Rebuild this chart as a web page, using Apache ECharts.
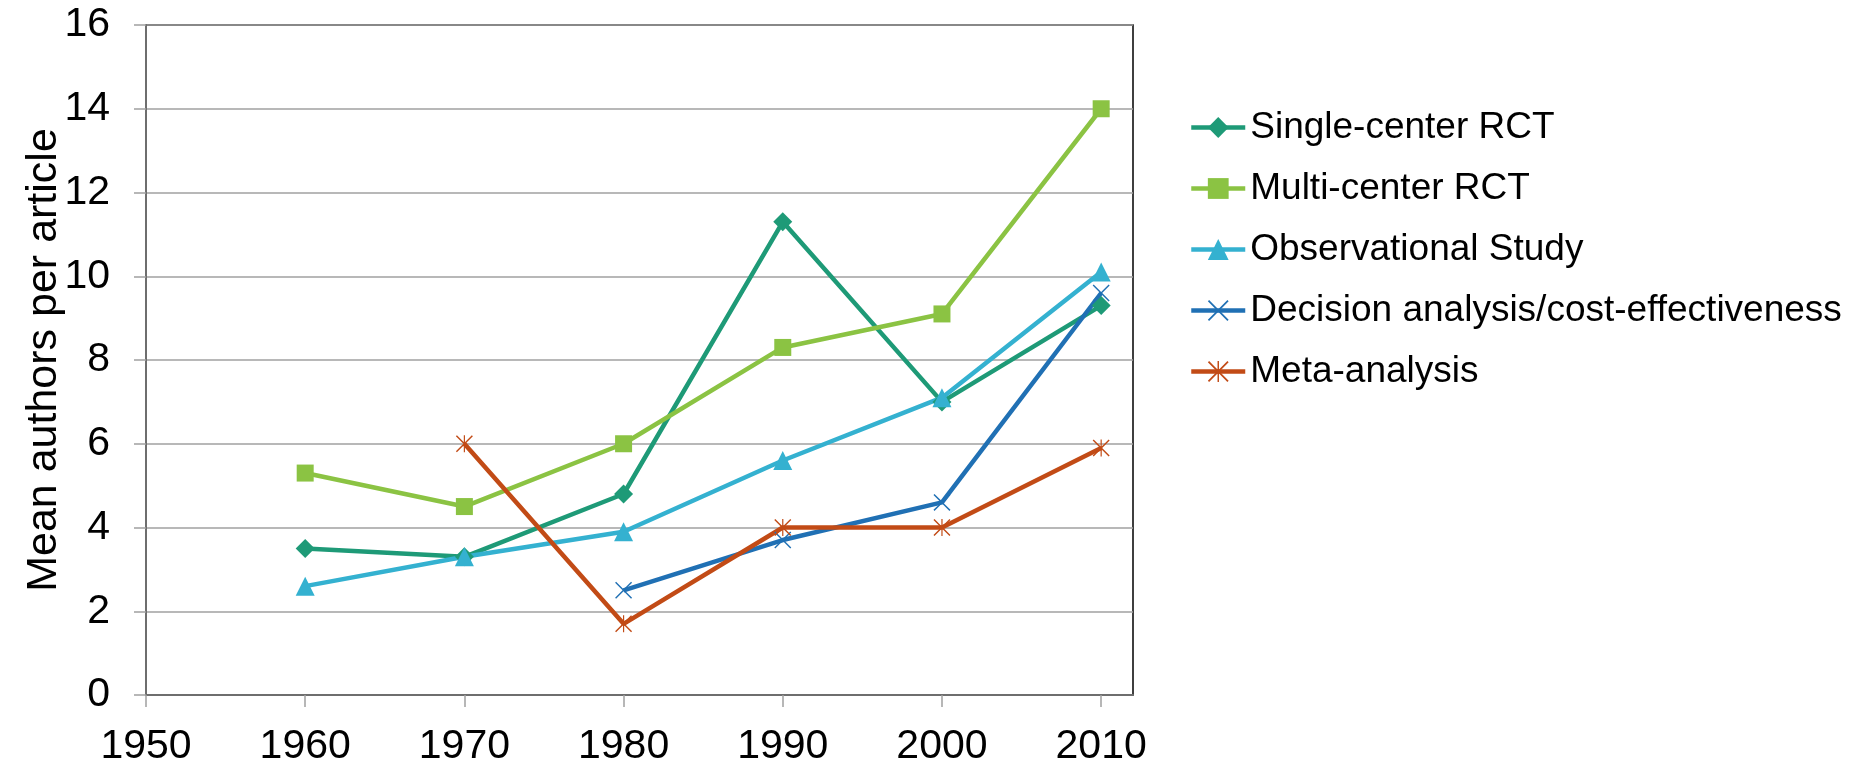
<!DOCTYPE html>
<html>
<head>
<meta charset="utf-8">
<script src="https://cdn.jsdelivr.net/npm/echarts@6/dist/echarts.min.js"></script>
<style>
  html, body { margin: 0; padding: 0; background: #fff; }
  #chart { width: 1850px; height: 767px; }
</style>
</head>
<body>
<div id="chart"></div>
<script>
const years = [1960, 1970, 1980, 1990, 2000, 2010];
const singleCenter = [3.5, 3.3, 4.8, 11.3, 7.0, 9.3];
const multiCenter = [5.3, 4.5, 6.0, 8.3, 9.1, 14.0];
const observational = [2.6, 3.3, 3.9, 5.6, 7.1, 10.1];
const decisionAnalysis = [null, null, 2.5, 3.7, 4.6, 9.6];
const metaAnalysis = [null, 6.0, 1.7, 4.0, 4.0, 5.9];
const xTicks = [1950, 1960, 1970, 1980, 1990, 2000, 2010];

const FONT = 'Liberation Sans, Arial, sans-serif';

// thin X and asterisk markers, filled outlines
const crossPath = 'path://M0,1.2 L1.2,0 L10,8.8 L18.8,0 L20,1.2 L11.2,10 L20,18.8 L18.8,20 L10,11.2 L1.2,20 L0,18.8 L8.8,10 Z';
const starPath = crossPath.replace(' Z', ' Z M9.3,0 L10.7,0 L10.7,20 L9.3,20 Z');

const toPairs = (vals) => {
    let out = [];
    vals.forEach((v, i) => {
        if (v !== null) out.push([years[i], v]);
    });
    return out;
}

const makeSeries = (name, vals, color, symbol, size) => {
    return {
        name: name,
        type: 'line',
        data: toPairs(vals),
        symbol: symbol,
        symbolSize: size,
        showAllSymbol: true,
        lineStyle: { color: color, width: 4.5 },
        itemStyle: { color: color },
        emphasis: { disabled: true },
        z: 3
    };
}

const chart = echarts.init(document.getElementById('chart'), null, { renderer: 'canvas' });

const option = {
    animation: false,
    textStyle: { fontFamily: FONT, color: '#000' },
    grid: {
        left: 146, top: 25, right: 717, bottom: 69,
        show: true, borderColor: '#000', borderWidth: 1.5, backgroundColor: 'transparent'
    },
    legend: {
        orient: 'vertical',
        left: 1184,
        top: 104,
        itemWidth: 54,
        itemHeight: 26,
        itemGap: 24,
        lineStyle: { width: 4.5 },
        textStyle: { fontFamily: FONT, fontSize: 37, color: '#000' },
        data: ['Single-center RCT', 'Multi-center RCT', 'Observational Study',
            'Decision analysis/cost-effectiveness', 'Meta-analysis']
    },
    xAxis: {
        type: 'value',
        min: 1950,
        max: 2012,
        interval: 10,
        axisLine: { show: true, lineStyle: { color: '#6e6e6e', width: 2 } },
        axisTick: { show: true, length: 12, lineStyle: { color: '#a0a0a0', width: 1.5 }, customValues: xTicks },
        axisLabel: {
            fontSize: 41, color: '#000', margin: 31, fontFamily: FONT, customValues: xTicks,
            formatter: (v) => String(v)
        },
        splitLine: { show: false }
    },
    yAxis: {
        type: 'value',
        min: 0,
        max: 16,
        interval: 2,
        name: 'Mean authors per article',
        nameLocation: 'middle',
        nameGap: 80,
        nameMoveOverlap: false,
        nameTextStyle: { fontSize: 43, color: '#000', fontFamily: FONT },
        axisLine: { show: true, lineStyle: { color: '#6e6e6e', width: 2 } },
        axisTick: { show: true, length: 12, lineStyle: { color: '#a0a0a0', width: 1.5 } },
        axisLabel: { fontSize: 41, color: '#000', margin: 36, fontFamily: FONT },
        splitLine: { show: true, lineStyle: { color: '#a0a0a0', width: 1.5 } }
    },
    series: [
        makeSeries('Single-center RCT', singleCenter, '#1e9a77', 'diamond', 19),
        makeSeries('Multi-center RCT', multiCenter, '#8bc343', 'rect', 17),
        makeSeries('Observational Study', observational, '#34b1d0', 'triangle', 19),
        makeSeries('Decision analysis/cost-effectiveness', decisionAnalysis, '#2070b4', crossPath, 17),
        makeSeries('Meta-analysis', metaAnalysis, '#c24b16', starPath, 17)
    ]
};

chart.setOption(option);
</script>
</body>
</html>
